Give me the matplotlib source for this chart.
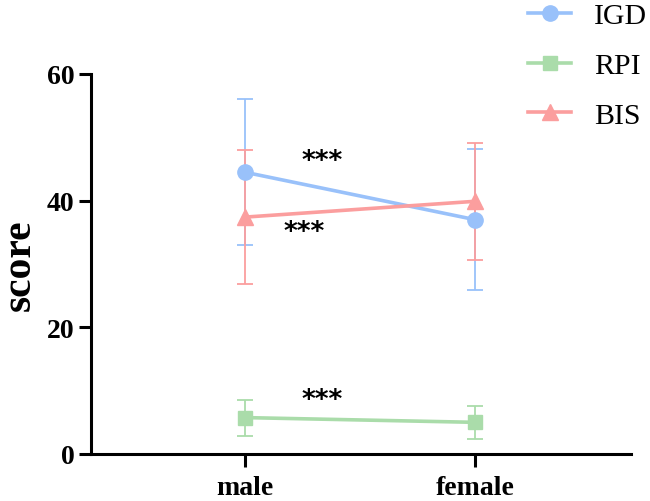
import matplotlib
matplotlib.use("Agg")
from matplotlib import pyplot as plt
from matplotlib.lines import Line2D
import numpy as np

# group means and SD
groups = ["male", "female"]
igd_mean = [44.5, 37.0]
igd_sd = [11.5, 11.1]
rpi_mean = [5.75, 5.0]
rpi_sd = [2.85, 2.65]
bis_mean = [37.4, 39.9]
bis_sd = [10.6, 9.2]

# significance marks (x position, y position)
star_x = [1.335, 1.26, 1.335]
star_y = [46.3, 35.1, 8.6]

c_igd = "#99c1fa"
c_rpi = "#aadcaa"
c_bis = "#fb9e9e"

fig = plt.figure(figsize=(6.5, 5.02), dpi=100)
ax = fig.add_axes([91/650, 1-455/502, 540/650, 380/502])

x = np.arange(1, len(groups) + 1)
series = [("IGD", igd_mean, igd_sd, c_igd, "o", 11),
          ("RPI", rpi_mean, rpi_sd, c_rpi, "s", 10),
          ("BIS", bis_mean, bis_sd, c_bis, "^", 11)]
handles = []
for name, m, sd, col, mk, ms in series:
    ax.errorbar(x, m, yerr=sd, color=col, marker=mk, markersize=ms,
                lw=2.6, elinewidth=1.3, capsize=5.5, capthick=1.3,
                clip_on=False)
    handles.append(Line2D([], [], color=col, marker=mk, markersize=ms,
                          lw=2.6, label=name))

for sx, sy in zip(star_x, star_y):
    ax.text(sx, sy, "***", fontsize=19, ha="center", va="center",
            family="DejaVu Sans", fontweight="bold")

ax.set_xlim(1/3, 8/3 + 0.01)
ax.set_ylim(0, 60)
ax.set_yticks([0, 20, 40, 60])
ax.set_xticks(x)
ax.set_xticklabels(groups)
for s in ["top", "right"]:
    ax.spines[s].set_visible(False)
for s in ["left", "bottom"]:
    ax.spines[s].set_linewidth(2.2)
ax.tick_params(width=2.2, length=9, labelsize=20, pad=3)
ax.tick_params(axis="x", labelsize=20, pad=6)
for lab in ax.get_xticklabels() + ax.get_yticklabels():
    lab.set_family("Liberation Serif")
    lab.set_fontweight("bold")
ax.set_ylabel("score", family="Liberation Serif", fontweight="bold",
              fontsize=30, labelpad=6)

fig.legend(handles=handles, loc="center left",
           bbox_to_anchor=(528/650, 1-66.5/502),
           frameon=False, prop={"family": "Liberation Serif", "size": 21.5},
           handlelength=1.45, handletextpad=0.75, labelspacing=0.76,
           borderpad=0, borderaxespad=0)

fig.savefig("out.png", dpi=100)
